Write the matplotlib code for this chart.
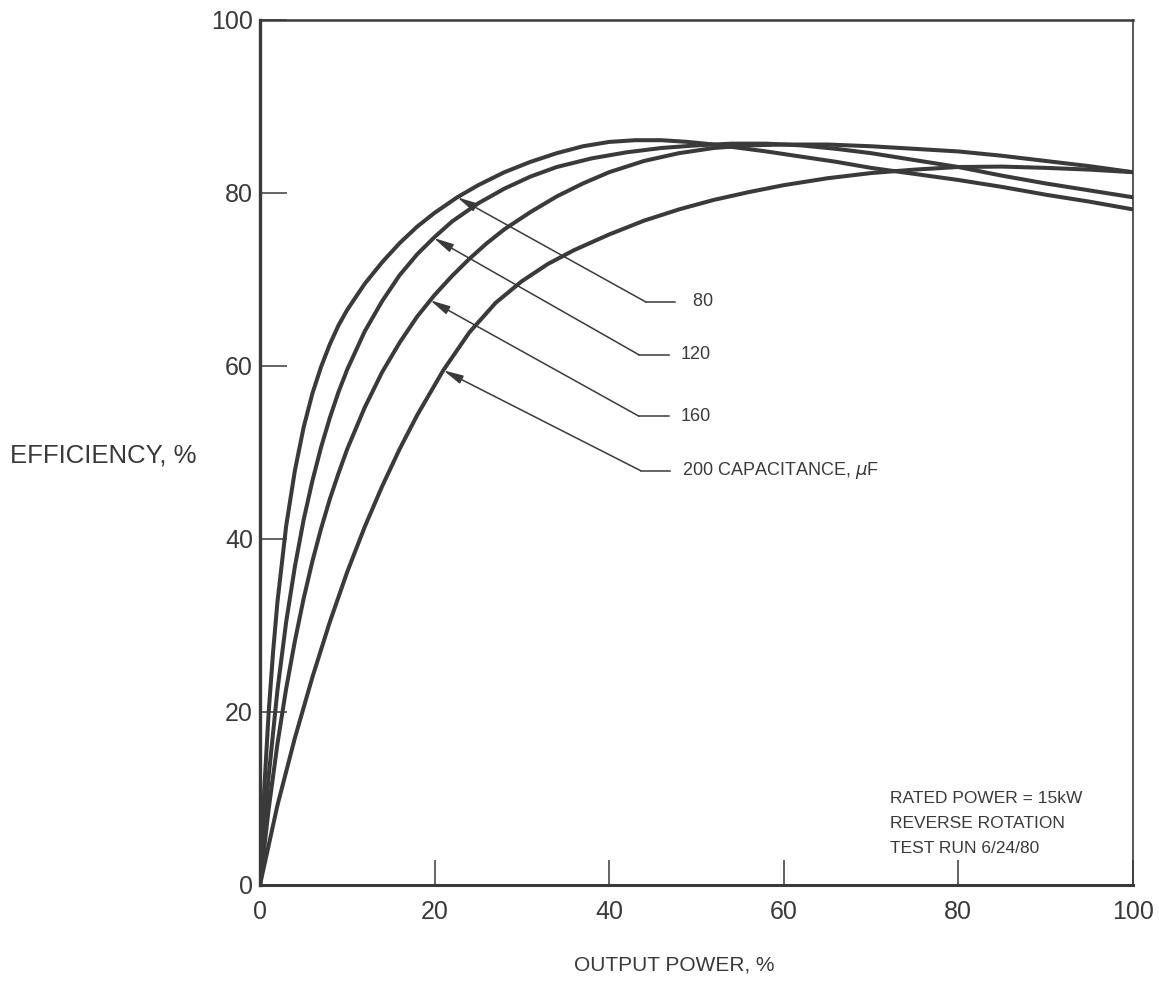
import matplotlib.pyplot as plt

plt.rcParams['font.family'] = ['Liberation Sans', 'DejaVu Sans']

INK = '#3a3a3a'

x_80 = [0, 0.5, 1, 1.5, 2, 3, 4, 5, 6, 7, 8, 9, 10, 12, 14, 16, 18, 20, 22.6, 25, 28, 31,
        34, 37, 40, 43, 46, 49, 52, 55, 58, 62, 66, 70, 75, 80, 85, 90, 95, 100]
eff_80 = [0, 11.2, 20.0, 26.9, 32.7, 41.5, 47.9, 52.9, 56.8, 59.9, 62.5, 64.7, 66.5, 69.5,
          72.0, 74.2, 76.1, 77.7, 79.5, 80.9, 82.4, 83.6, 84.6, 85.4, 85.9, 86.1, 86.1,
          85.9, 85.6, 85.2, 84.8, 84.2, 83.6, 82.9, 82.2, 81.5, 80.7, 79.8, 79.0, 78.1]

x_120 = [0, 1, 2, 3, 4, 5, 6, 7, 8, 9, 10, 12, 14, 16, 18, 20, 22, 25, 28, 31, 34, 38, 42,
         46, 50, 54, 58, 62, 66, 70, 75, 80, 85, 90, 95, 100]
eff_120 = [0, 12.6, 22.5, 30.4, 36.8, 42.2, 46.7, 50.6, 54.0, 57.0, 59.6, 64.0, 67.5, 70.5,
           72.9, 74.9, 76.7, 78.8, 80.5, 81.9, 83.0, 84.0, 84.7, 85.2, 85.5, 85.7, 85.7,
           85.5, 85.1, 84.6, 83.8, 83.0, 82.0, 81.1, 80.3, 79.5]

x_160 = [0, 1, 2, 3, 4, 5, 6, 7, 8, 9, 10, 12, 14, 16, 18, 20, 22, 24, 26, 28, 31, 34, 37,
         40, 44, 48, 52, 56, 60, 65, 70, 75, 80, 85, 90, 95, 100]
eff_160 = [0, 8.8, 16.3, 22.7, 28.2, 33.1, 37.4, 41.2, 44.6, 47.6, 50.4, 55.2, 59.3, 62.7,
           65.7, 68.2, 70.4, 72.4, 74.2, 75.8, 77.8, 79.6, 81.1, 82.4, 83.7, 84.6, 85.2,
           85.5, 85.6, 85.6, 85.4, 85.1, 84.8, 84.3, 83.7, 83.1, 82.4]

x_200 = [0, 2, 4, 6, 8, 10, 12, 14, 16, 18, 21, 24, 27, 30, 33, 36, 40, 44, 48, 52, 56, 60,
         65, 70, 75, 80, 85, 90, 95, 100]
eff_200 = [0, 9.2, 17.0, 24.0, 30.4, 36.2, 41.4, 46.1, 50.4, 54.3, 59.5, 63.9, 67.3, 69.8,
           71.8, 73.4, 75.2, 76.8, 78.1, 79.2, 80.1, 80.9, 81.7, 82.3, 82.7, 83.0, 83.05,
           82.9, 82.7, 82.4]

# callout labels: text, point on the curve, knee of the leader line
labels = [' 80', '120', '160', r'200 CAPACITANCE, $\mu$F']
tip_x = [22.6, 19.9, 19.5, 21.0]
tip_y = [79.5, 74.8, 67.6, 59.5]
knee_x = [44.2, 43.4, 43.4, 43.6]
knee_y = [67.4, 61.3, 54.2, 47.9]

ticks = [0, 20, 40, 60, 80, 100]
notes = 'RATED POWER = 15kW\nREVERSE ROTATION\nTEST RUN 6/24/80'

fig = plt.figure(figsize=(11.59, 9.83), dpi=100)
ax = fig.add_axes([0.2243, 0.0997, 0.7532, 0.880])

for xs, ys in [(x_80, eff_80), (x_120, eff_120), (x_160, eff_160), (x_200, eff_200)]:
    ax.plot(xs, ys, color=INK, lw=2.9, solid_joinstyle='round', solid_capstyle='round')

for lab, tx, ty, kx, ky in zip(labels, tip_x, tip_y, knee_x, knee_y):
    ax.annotate('', xy=(tx, ty), xytext=(kx, ky),
                arrowprops=dict(arrowstyle='-|>,head_length=1.0,head_width=0.22',
                                mutation_scale=12, color=INK, lw=1.1,
                                shrinkA=0, shrinkB=0))
    ax.plot([kx, kx + 3.4], [ky, ky], color=INK, lw=1.1)
    ax.text(kx + 4.8, ky, lab, fontsize=13, color=INK, va='center', ha='left')

ax.text(72.2, 7.1, notes, fontsize=12.5, color=INK, va='center', ha='left',
        linespacing=1.85)

ax.set_xlim(0, 100)
ax.set_ylim(0, 100)
ax.set_xticks(ticks)
ax.set_yticks(ticks)
ax.tick_params(axis='x', direction='in', length=18, width=1.1, color=INK,
               labelsize=18, labelcolor=INK, pad=11)
ax.tick_params(axis='y', direction='in', length=19.5, width=1.1, color=INK,
               labelsize=18, labelcolor=INK, pad=5)

ax.spines['left'].set_linewidth(2.4)
ax.spines['bottom'].set_linewidth(2.2)
ax.spines['top'].set_linewidth(1.8)
ax.spines['right'].set_linewidth(1.2)
for s in ax.spines.values():
    s.set_color(INK)

fig.text(0.0086, 0.537, 'EFFICIENCY, %', fontsize=18.5, color=INK, va='center', ha='left')
fig.text(0.582, 0.018, 'OUTPUT POWER, %', fontsize=15, color=INK, va='center', ha='center')

fig.savefig('out.png', dpi=100, facecolor='white')
